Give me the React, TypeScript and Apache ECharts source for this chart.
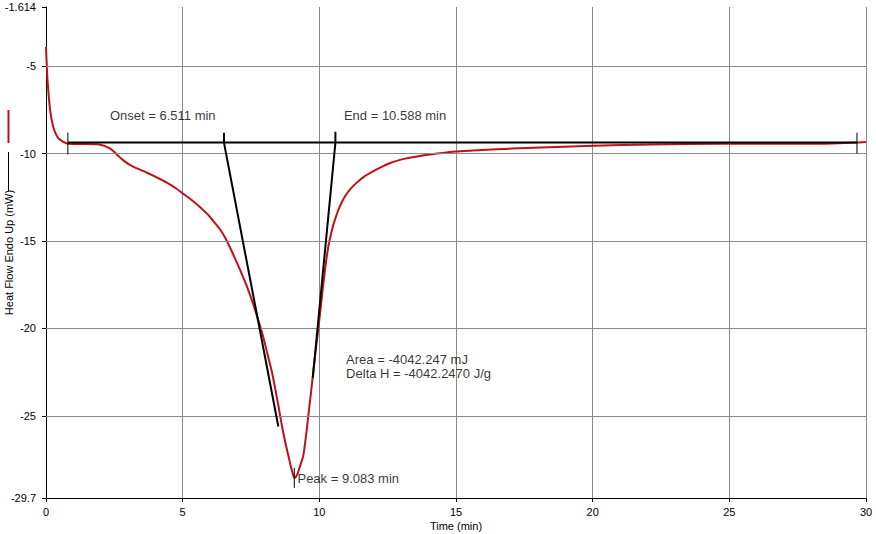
import React, { useEffect, useRef } from "react";
import * as echarts from "echarts";

// Time (min) and heat flow (mW)
const timeMin = [
  0, 0.03, 0.06, 0.15, 0.26, 0.4, 0.51, 0.77, 1.2, 1.87, 2.05, 2.2, 2.35, 2.48, 2.6,
  2.75, 2.9, 3.07, 3.35, 3.68, 4.05, 4.42, 4.75, 5.02, 5.35, 5.63, 5.9, 6.12, 6.35,
  6.55, 6.8, 7.1, 7.35, 7.59, 7.78, 7.95, 8.1, 8.26, 8.38, 8.5, 8.6, 8.68, 8.78,
  8.87, 8.95, 9.02, 9.09, 9.16, 9.23, 9.3, 9.41, 9.5, 9.6, 9.7, 9.78, 9.87, 9.96,
  10.06, 10.15, 10.24, 10.33, 10.45, 10.57, 10.75, 10.94, 11.15, 11.37, 11.65,
  11.98, 12.3, 12.59, 12.95, 13.3, 13.68, 14.3, 15.03, 16.3, 17.83, 20.03, 22.1,
  24.66, 28.32, 30,
];
const heatFlow = [
  -3.9, -5.0, -5.9, -7.5, -8.45, -9.0, -9.2, -9.42, -9.45, -9.47, -9.52, -9.6, -9.72,
  -9.88, -10.06, -10.28, -10.47, -10.64, -10.86, -11.08, -11.36, -11.66, -11.98,
  -12.3, -12.68, -13.05, -13.45, -13.85, -14.3, -14.8, -15.6, -16.65, -17.6, -18.65,
  -19.6, -20.5, -21.45, -22.45, -23.4, -24.4, -25.3, -25.95, -26.7, -27.3, -27.85,
  -28.25, -28.55, -28.45, -28.2, -27.85, -27.3, -26.3, -24.95, -23.6, -22.45, -21.2,
  -20.05, -18.65, -17.4, -16.25, -15.3, -14.45, -13.78, -13.02, -12.44, -12.0, -11.66,
  -11.3, -11.0, -10.74, -10.54, -10.36, -10.24, -10.14, -10.0, -9.88, -9.76, -9.67,
  -9.55, -9.48, -9.44, -9.43, -9.33,
];

// Axis ticks
const yTickValues = [-29.7, -25, -20, -15, -10, -5, -1.614];
const yTickLabels = ["-29.7", "-25", "-20", "-15", "-10", "-5", "-1.614"];
const yGridValues = [-25, -20, -15, -10, -5];

// Analysis values
const baselineLevel = -9.37;
const baselineStart = 0.8;
const baselineEnd = 29.67;
const onsetTime = 6.511;
const endTime = 10.588;
const peakTime = 9.083;
const onsetTangentEnd = [8.5, -25.61];
const endTangentEnd = [9.76, -22.82];

// Annotation texts and anchor points (data coordinates)
const annotations = [
  { text: "Onset = 6.511 min", at: [2.34, -7.82] },
  { text: "End = 10.588 min", at: [10.9, -7.82] },
  { text: "Peak = 9.083 min", at: [9.2, -28.6] },
  { text: "Area = -4042.247 mJ\nDelta H = -4042.2470 J/g", at: [10.98, -22.17] },
];

const FONT = "'Liberation Sans', Arial, sans-serif";
const RED = "#c0101a";

export default function App() {
  const ref = useRef<HTMLDivElement>(null);

  useEffect(() => {
    if (!ref.current) return;
    const chart = echarts.init(ref.current, null, { renderer: "svg" });

    const curve = timeMin.map((t, i) => [t, heatFlow[i]]);
    const blackLine = (data: number[][], width: number) => ({
      type: "line",
      data,
      showSymbol: false,
      symbol: "none",
      silent: true,
      z: 5,
      lineStyle: { color: "#000", width },
    });

    chart.setOption({
      animation: false,
      backgroundColor: "#fff",
      textStyle: { fontFamily: FONT },
      grid: {
        left: 46,
        right: 10,
        top: 7,
        bottom: 36,
        containLabel: false,
        outerBoundsMode: "none",
      },
      xAxis: {
        type: "value",
        min: 0,
        max: 30,
        interval: 5,
        name: "Time (min)",
        nameLocation: "middle",
        nameGap: 22,
        nameMoveOverlap: false,
        nameTextStyle: { color: "#000", fontSize: 11, fontFamily: FONT },
        axisLine: { show: true, onZero: false, lineStyle: { color: "#000", width: 1 } },
        axisTick: { show: true, length: 4, lineStyle: { color: "#000" } },
        axisLabel: { color: "#000", fontSize: 11, margin: 8, fontFamily: FONT },
        splitLine: { show: true, lineStyle: { color: "#8a8a8a", width: 1 } },
      },
      yAxis: {
        type: "value",
        min: -29.7,
        max: -1.614,
        name: "Heat Flow Endo Up (mW)",
        nameLocation: "middle",
        nameGap: 32,
        nameRotate: 90,
        nameMoveOverlap: false,
        nameTextStyle: { color: "#000", fontSize: 11, fontFamily: FONT },
        axisLine: { show: true, onZero: false, lineStyle: { color: "#000", width: 1 } },
        axisTick: {
          show: true,
          length: 4,
          customValues: yTickValues,
          lineStyle: { color: "#000" },
        },
        axisLabel: {
          color: "#000",
          fontSize: 11,
          margin: 10,
          fontFamily: FONT,
          customValues: yTickValues,
          formatter: (v: number) => {
            let best = 0;
            yTickValues.forEach((tv, i) => {
              if (Math.abs(tv - v) < Math.abs(yTickValues[best] - v)) best = i;
            });
            return yTickLabels[best];
          },
        },
        splitLine: { show: false },
      },
      graphic: [
        {
          type: "line",
          shape: { x1: 8.5, y1: 110, x2: 8.5, y2: 143 },
          style: { stroke: RED, lineWidth: 2 },
        },
        {
          type: "line",
          shape: { x1: 8.5, y1: 152, x2: 8.5, y2: 191 },
          style: { stroke: "#000", lineWidth: 1 },
        },
      ],
      series: [
        {
          type: "line",
          data: [],
          silent: true,
          z: 1,
          markLine: {
            silent: true,
            symbol: "none",
            label: { show: false },
            lineStyle: { color: "#8a8a8a", width: 1, type: "solid" },
            data: yGridValues.map((v) => ({ yAxis: v })),
          },
        },
        {
          type: "line",
          data: curve,
          showSymbol: false,
          symbol: "none",
          smooth: 0.3,
          silent: true,
          z: 3,
          lineStyle: { color: RED, width: 2 },
        },
        blackLine(
          [
            [baselineStart, baselineLevel],
            [baselineEnd, baselineLevel],
          ],
          2
        ),
        blackLine([[baselineStart, -8.8], [baselineStart, -10.05]], 1),
        blackLine([[baselineEnd, -8.8], [baselineEnd, -10.0]], 1),
        blackLine(
          [
            [onsetTime, -8.8],
            [onsetTime, baselineLevel],
            onsetTangentEnd,
          ],
          2
        ),
        blackLine(
          [
            [endTime, -8.75],
            [endTime, baselineLevel],
            endTangentEnd,
          ],
          2
        ),
        blackLine([[peakTime, -27.97], [peakTime, -29.12]], 1),
        {
          type: "scatter",
          symbolSize: 0,
          silent: true,
          z: 6,
          data: annotations.map((a) => ({ value: a.at, name: a.text })),
          label: {
            show: true,
            position: "right",
            distance: 0,
            formatter: (p: any) => p.name,
            color: "#000",
            fontSize: 13,
            lineHeight: 14,
            fontFamily: FONT,
          },
        },
      ],
    });

    return () => chart.dispose();
  }, []);

  return (
    <div
      ref={ref}
      style={{ position: "fixed", left: 0, top: 0, width: 876, height: 534 }}
    />
  );
}
